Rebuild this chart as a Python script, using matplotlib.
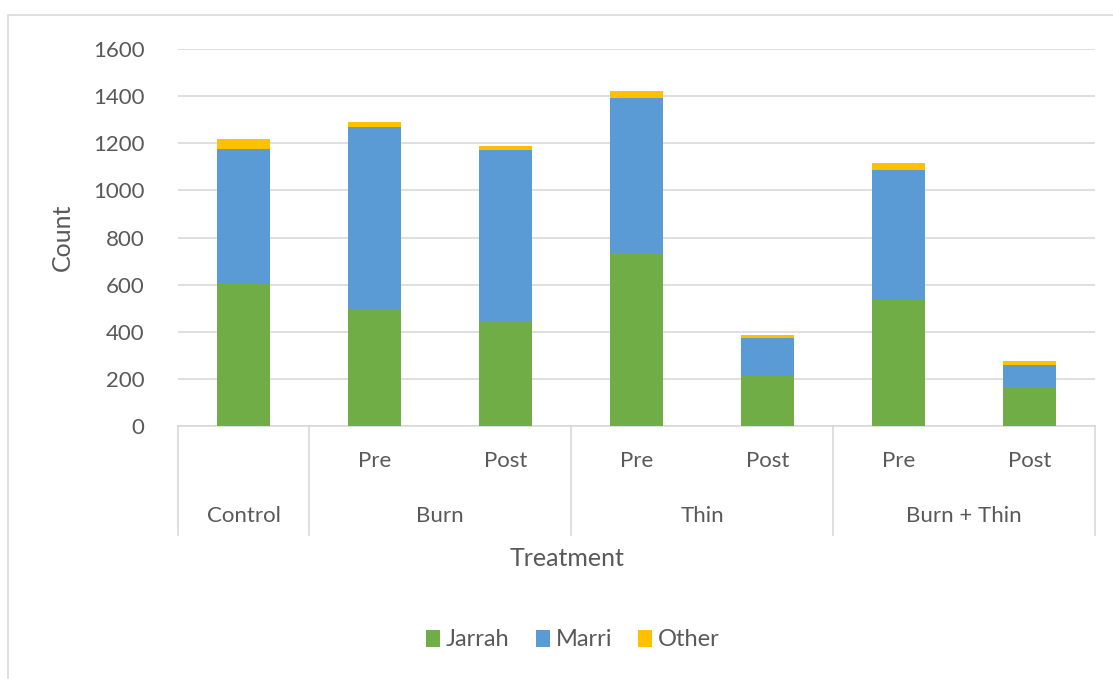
import numpy as np
import matplotlib.pyplot as plt
from matplotlib.patches import Rectangle

# tree counts per plot, stacked by species
sub_labels = ["", "Pre", "Post", "Pre", "Post", "Pre", "Post"]
groups = ["Control", "Burn", "Thin", "Burn + Thin"]
group_span = [(0, 0), (1, 2), (3, 4), (5, 6)]
jarrah = [604, 498, 447, 735, 211, 536, 164]
marri = [573, 770, 726, 658, 163, 552, 96]
other = [39, 23, 17, 28, 14, 30, 17]

colors = {"Jarrah": "#70ad47", "Marri": "#5b9bd5", "Other": "#ffc000"}
txt = "#595959"

plt.rcParams['font.family'] = ['Lato', 'DejaVu Sans']

fig = plt.figure(figsize=(11.13, 6.79), dpi=100)
W, H = 1113, 679
# light outer frame of the chart area
fig.patches.append(Rectangle((8 / W, -0.1), 1.2, 1 - 15 / H + 0.1,
                             transform=fig.transFigure, fill=False,
                             edgecolor="#d9d9d9", linewidth=1.2))

ax = fig.add_axes([178 / W, 1 - 426 / H, (1095 - 178) / W, (426 - 49) / H])
x = np.arange(len(jarrah))
jarrah = np.array(jarrah)
marri = np.array(marri)
other = np.array(other)
w = 0.4
ax.bar(x, jarrah, w, color=colors["Jarrah"], label="Jarrah", zorder=3)
ax.bar(x, marri, w, bottom=jarrah, color=colors["Marri"], label="Marri", zorder=3)
ax.bar(x, other, w, bottom=jarrah + marri, color=colors["Other"], label="Other", zorder=3)

ax.set_xlim(-0.5, 6.5)
ax.set_ylim(0, 1600)
ax.set_yticks(np.arange(0, 1601, 200))
ax.yaxis.grid(True, color="#d9d9d9", linewidth=1.2, zorder=0)
ax.tick_params(axis="y", length=0, labelsize=16, labelcolor=txt, pad=24)
ax.set_xticks([])
for s in ["top", "right", "left"]:
    ax.spines[s].set_visible(False)
ax.spines["bottom"].set_color("#d9d9d9")
ax.spines["bottom"].set_linewidth(1.2)
ax.set_ylabel("Count", fontsize=18, color=txt, labelpad=14)

# two-level category axis
tr = ax.get_xaxis_transform()
sep_bottom = -(535 - 426) / 377
for xs in [-0.5, 0.5, 2.5, 4.5, 6.5]:
    ax.plot([xs, xs], [0, sep_bottom], transform=tr, color="#d9d9d9",
            linewidth=1.2, clip_on=False)
for xi, lab in zip(x, sub_labels):
    if lab:
        ax.text(xi, -(461 - 426) / 377, lab, transform=tr, ha="center",
                va="center", fontsize=16, color=txt)
for g, (a, b) in zip(groups, group_span):
    ax.text((a + b) / 2, -(516 - 426) / 377, g, transform=tr, ha="center",
            va="center", fontsize=16, color=txt)
fig.text(567 / W, 1 - 558 / H, "Treatment", ha="center", va="center",
         fontsize=18, color=txt)

leg = fig.legend(loc="center", bbox_to_anchor=(573 / W, 1 - 640 / H), ncol=3,
                 frameon=False, fontsize=17, handlelength=0.6, handleheight=0.75,
                 handletextpad=0.25, columnspacing=1.1)
for t in leg.get_texts():
    t.set_color(txt)

fig.savefig("out.png", dpi=100)
